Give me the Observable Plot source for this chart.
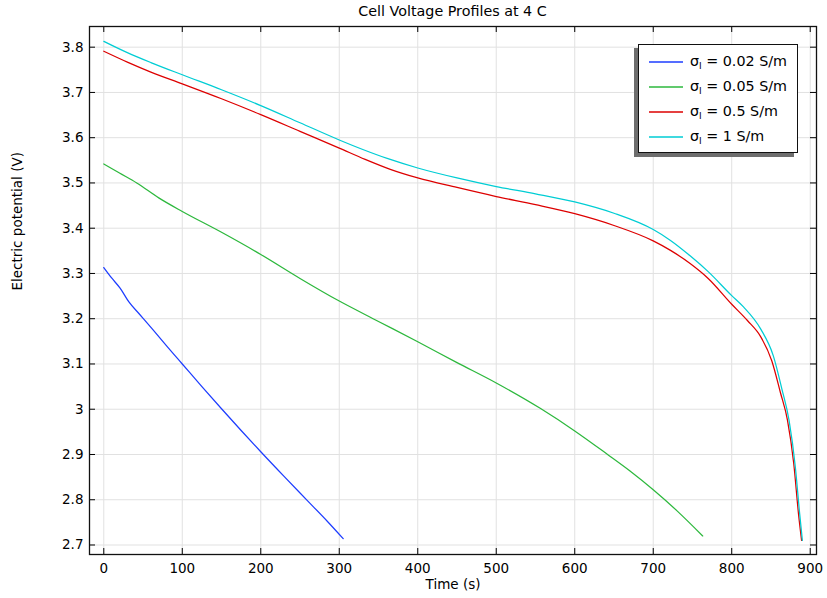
<!DOCTYPE html>
<html>
<head>
<meta charset="utf-8">
<script src="https://cdn.jsdelivr.net/npm/d3@7"></script>
<script src="https://cdn.jsdelivr.net/npm/@observablehq/plot@0.6"></script>
<style>
  body { margin: 0; background: #fff; font-family: "DejaVu Sans", sans-serif; }
  #wrap { position: relative; width: 827px; height: 598px; }
  #title { position: absolute; left: 89px; width: 727px; top: 3px; text-align: center; font-size: 14.3px; line-height: 17px; color: #000; }
  #legend { position: absolute; left: 638px; top: 44px; width: 158px; height: 107px; border: 1.5px solid #111; box-shadow: -4px 4px 0 #6e6e6e; background: #fff; }
  .sw { position: absolute; left: 649px; width: 34px; height: 4px; overflow: visible; }
  .lt { position: absolute; left: 690px; font-size: 14.3px; line-height: 18px; height: 18px; white-space: nowrap; color: #000; }
  .lt sub { font-size: 9.5px; vertical-align: -3px; line-height: 0; }
</style>
</head>
<body>
<div id="wrap">
  <div id="chart"></div>
  <div id="title">Cell Voltage Profiles at 4 C</div>
  <div id="legend"></div>
</div>
<script>
// ---- data ----
const conductivities = [0.02, 0.05, 0.5, 1];              // S/m
const seriesColors = ["#1d3dff", "#2db83d", "#dd0000", "#00cdd4"];

const time002 = [0, 10, 21, 32, 45, 62, 80, 100, 125, 150, 175, 200, 230, 260, 285, 305];
const volt002 = [3.313, 3.290, 3.267, 3.237, 3.211, 3.177, 3.140, 3.100, 3.050, 3.001, 2.953, 2.906, 2.851, 2.797, 2.752, 2.714];

const time005 = [0, 20, 42, 70, 100, 150, 200, 250, 300, 350, 400, 450, 500, 556, 600, 641, 670, 700, 730, 763];
const volt005 = [3.542, 3.522, 3.500, 3.467, 3.437, 3.391, 3.342, 3.289, 3.239, 3.194, 3.149, 3.103, 3.058, 3.002, 2.952, 2.901, 2.864, 2.822, 2.776, 2.720];

const time05 = [0, 30, 60, 100, 150, 200, 250, 300, 333, 365, 400, 450, 500, 550, 600, 650, 700, 722, 747, 770, 800, 820, 837, 851, 862, 871, 879, 885, 889];
const volt05 = [3.791, 3.767, 3.745, 3.719, 3.686, 3.651, 3.614, 3.577, 3.552, 3.530, 3.511, 3.490, 3.470, 3.452, 3.432, 3.406, 3.372, 3.351, 3.322, 3.289, 3.232, 3.196, 3.160, 3.107, 3.037, 2.976, 2.880, 2.770, 2.710];

const time1 = [0, 30, 60, 100, 150, 200, 250, 300, 330, 363, 400, 450, 500, 550, 600, 650, 700, 722, 747, 770, 800, 815, 837, 853, 864, 873, 881, 886.5, 890];
const volt1 = [3.813, 3.788, 3.766, 3.739, 3.706, 3.671, 3.633, 3.595, 3.574, 3.553, 3.533, 3.511, 3.492, 3.476, 3.458, 3.433, 3.397, 3.373, 3.339, 3.304, 3.251, 3.226, 3.177, 3.118, 3.044, 2.976, 2.873, 2.770, 2.710];

const xTicks = [0, 100, 200, 300, 400, 500, 600, 700, 800, 900];
const yTicks = [2.7, 2.8, 2.9, 3.0, 3.1, 3.2, 3.3, 3.4, 3.5, 3.6, 3.7, 3.8];

// ---- build table ----
const seriesNames = conductivities.map(c => `σl = ${c} S/m`);
const times = [time002, time005, time05, time1];
const volts = [volt002, volt005, volt05, volt1];
const rows = [];
times.forEach((ts, i) => ts.forEach((t, j) => rows.push({series: seriesNames[i], t, v: volts[i][j]})));

const W = 827, H = 598, mL = 89, mR = 11, mT = 26, mB = 44;
const fw = W - mL - mR, fh = H - mT - mB;
const tick = 6;

const chart = Plot.plot({
  width: W, height: H,
  marginLeft: mL, marginRight: mR, marginTop: mT, marginBottom: mB,
  style: { fontFamily: "DejaVu Sans, sans-serif", fontSize: "13.5px", color: "#000", background: "#fff" },
  x: { domain: [-18.2, 908] },
  y: { domain: [2.679, 3.8457] },
  color: { domain: seriesNames, range: seriesColors },
  marks: [
    Plot.ruleX(xTicks, { x: d => d, stroke: "#e1e1e1", strokeWidth: 1 }),
    Plot.ruleY(yTicks, { y: d => d, stroke: "#e1e1e1", strokeWidth: 1 }),
    Plot.line(rows, { x: "t", y: "v", z: "series", stroke: "series", strokeWidth: 1.25, curve: "monotone-x" }),
    // inward ticks on all four sides
    Plot.ruleX(xTicks, { x: d => d, insetTop: fh - tick, stroke: "#000" }),
    Plot.ruleX(xTicks, { x: d => d, insetBottom: fh - tick, stroke: "#000" }),
    Plot.ruleY(yTicks, { y: d => d, insetRight: fw - tick, stroke: "#000" }),
    Plot.ruleY(yTicks, { y: d => d, insetLeft: fw - tick, stroke: "#000" }),
    Plot.axisX(xTicks, { tickSize: 0, tickPadding: 9, label: null, fontSize: 13.5 }),
    Plot.axisY(yTicks, { tickSize: 0, tickPadding: 6, label: null, fontSize: 13.5,
      tickFormat: d => String(+d.toFixed(1)) }),
    Plot.frame({ stroke: "#111", strokeWidth: 1.3 }),
    Plot.text(["Time (s)"], { text: d => d, frameAnchor: "bottom", dy: 34, fontSize: 13.5 }),
    Plot.text(["Electric potential (V)"], { text: d => d, frameAnchor: "left", dx: -72, rotate: -90, fontSize: 13.5 })
  ]
});
document.getElementById("chart").appendChild(chart);

// ---- legend (HTML overlay) ----
const wrap = document.getElementById("wrap");
const rowCenters = [61.7, 86.7, 111.7, 136.7];
const svgNS = "http://www.w3.org/2000/svg";
conductivities.forEach((c, i) => {
  const sw = document.createElementNS(svgNS, "svg");
  sw.setAttribute("class", "sw");
  sw.setAttribute("width", "34");
  sw.setAttribute("height", "4");
  sw.style.top = (rowCenters[i] - 2) + "px";
  const ln = document.createElementNS(svgNS, "line");
  ln.setAttribute("x1", "0"); ln.setAttribute("x2", "34");
  ln.setAttribute("y1", "2"); ln.setAttribute("y2", "2");
  ln.setAttribute("stroke", seriesColors[i]);
  ln.setAttribute("stroke-width", "1.4");
  sw.appendChild(ln);
  wrap.appendChild(sw);
  const lt = document.createElement("div");
  lt.className = "lt";
  lt.style.top = (rowCenters[i] - 10) + "px";
  lt.innerHTML = `σ<sub>l</sub> = ${c} S/m`;
  wrap.appendChild(lt);
});
</script>
</body>
</html>
